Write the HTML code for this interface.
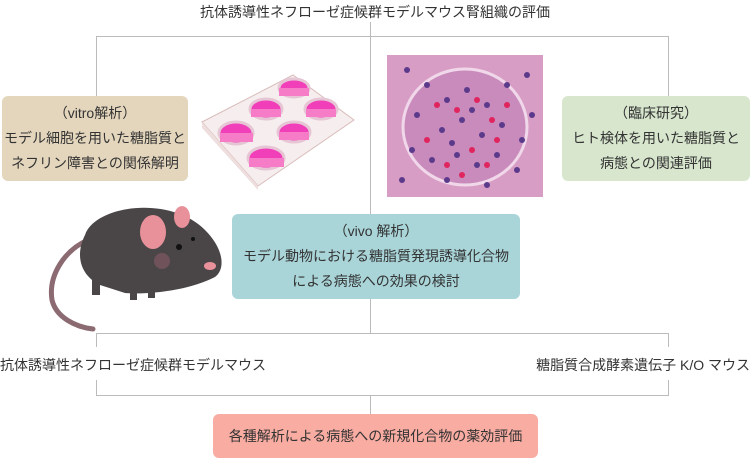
<!DOCTYPE html>
<html><head><meta charset="utf-8"><style>
body{margin:0;width:750px;height:458px;background:#fff;position:relative;overflow:hidden;font-family:"Liberation Sans","Noto Sans CJK JP",sans-serif;color:#333;font-size:14px}
.a{position:absolute}
.l{position:absolute;background:#bbb}
.box{position:absolute;border-radius:6px;text-align:center;line-height:25px;font-size:14px}
.t{position:absolute;white-space:nowrap;font-size:14px}
</style></head><body>
<div class="t" style="left:0;width:750px;text-align:center;top:2px">抗体誘導性ネフローゼ症候群モデルマウス腎組織の評価</div>
<div class="l" style="left:370px;top:22px;width:1px;height:311px"></div>
<div class="l" style="left:96px;top:36px;width:573px;height:1px"></div>
<div class="l" style="left:96px;top:36px;width:1px;height:60px"></div>
<div class="l" style="left:668px;top:36px;width:1px;height:60px"></div>
<div class="box" style="left:2px;top:96px;width:186px;height:85px;background:#e4d6bd;padding-top:5px;box-sizing:border-box">（vitro解析）<br>モデル細胞を用いた糖脂質と<br>ネフリン障害との関係解明</div>
<div class="box" style="left:562px;top:96px;width:188px;height:85px;background:#d7e6cd;padding-top:5px;box-sizing:border-box">（臨床研究）<br>ヒト検体を用いた糖脂質と<br>病態との関連評価</div>
<!-- plate -->
<svg class="a" style="left:198px;top:70px" width="160" height="120" viewBox="0 0 160 120">
<polygon points="4,52 95,5 156,50 60,116" fill="#f6eeee" stroke="#d9bcbc"/>
<polygon points="4,52 60,116 60,120 4,58" fill="#eedede"/>
<g fill="#f03fb8" stroke="#e6c5d5" stroke-width="3">
<ellipse cx="96" cy="18" rx="15" ry="9"/><ellipse cx="123" cy="39" rx="16" ry="10"/>
<ellipse cx="68" cy="39" rx="16" ry="10"/><ellipse cx="96" cy="62" rx="16" ry="10"/>
<ellipse cx="38" cy="63" rx="17" ry="11"/><ellipse cx="68" cy="88" rx="18" ry="11"/>
</g>
<g fill="#f77cc8"><rect x="81" y="18" width="30" height="8"/><rect x="108" y="39" width="30" height="8"/><rect x="53" y="39" width="30" height="8"/><rect x="81" y="62" width="30" height="8"/><rect x="22" y="63" width="33" height="9"/><rect x="51" y="88" width="35" height="9"/></g>
</svg>
<!-- histology -->
<svg class="a" style="left:387px;top:55px" width="156" height="142" viewBox="0 0 156 142">
<rect width="156" height="142" fill="#d89dc4"/>
<ellipse cx="78" cy="72" rx="62" ry="58" fill="#c98bbb" stroke="#f0d8ea" stroke-width="3"/>
<g fill="#5b3a8c">
<circle cx="20" cy="15" r="3"/><circle cx="40" cy="30" r="3"/><circle cx="60" cy="45" r="3"/><circle cx="80" cy="35" r="3"/><circle cx="100" cy="50" r="3"/><circle cx="120" cy="30" r="3"/><circle cx="140" cy="20" r="3"/><circle cx="30" cy="60" r="3"/><circle cx="55" cy="75" r="3"/><circle cx="75" cy="65" r="3"/><circle cx="95" cy="80" r="3"/><circle cx="115" cy="70" r="3"/><circle cx="135" cy="85" r="3"/><circle cx="25" cy="95" r="3"/><circle cx="45" cy="105" r="3"/><circle cx="70" cy="100" r="3"/><circle cx="90" cy="110" r="3"/><circle cx="110" cy="100" r="3"/><circle cx="130" cy="115" r="3"/><circle cx="15" cy="125" r="3"/><circle cx="60" cy="125" r="3"/><circle cx="100" cy="130" r="3"/><circle cx="145" cy="60" r="3"/><circle cx="85" cy="55" r="3"/><circle cx="65" cy="88" r="3"/>
</g>
<g fill="#e0245e">
<circle cx="50" cy="50" r="3"/><circle cx="90" cy="45" r="3"/><circle cx="70" cy="55" r="3"/><circle cx="40" cy="85" r="3"/><circle cx="85" cy="95" r="3"/><circle cx="110" cy="85" r="3"/><circle cx="100" cy="110" r="3"/><circle cx="60" cy="110" r="3"/><circle cx="120" cy="50" r="3"/><circle cx="75" cy="120" r="3"/><circle cx="105" cy="65" r="3"/>
</g>
</svg>
<!-- mouse -->
<svg class="a" style="left:30px;top:195px" width="200" height="195" viewBox="0 0 200 195">
<path d="M58,45 C35,55 18,80 22,105 C26,122 45,132 63,134" fill="none" stroke="#8b6a72" stroke-width="5" stroke-linecap="round"/>
<path d="M55,40 C65,10 140,0 175,35 C195,55 195,75 185,82 C160,95 120,100 95,98 L70,90 C50,80 45,60 55,40Z" fill="#4a4648"/>
<rect x="62" y="78" width="8" height="22" fill="#4a4648"/><rect x="100" y="85" width="7" height="20" fill="#4a4648"/><rect x="118" y="85" width="7" height="18" fill="#4a4648"/>
<ellipse cx="123" cy="37" rx="13" ry="17" fill="#e8919a"/>
<ellipse cx="152" cy="22" rx="8" ry="11" fill="#e8919a"/>
<circle cx="149" cy="52" r="3" fill="#111"/><circle cx="163" cy="44" r="2" fill="#111"/>
<ellipse cx="180" cy="71" rx="6" ry="4" fill="#e8919a"/>
<circle cx="132" cy="66" r="8" fill="#8a5a68" opacity=".6"/>
</svg>
<div class="box" style="left:232px;top:214px;width:288px;height:85px;background:#a9d5d9;padding-top:5px;box-sizing:border-box">（vivo 解析）<br>モデル動物における糖脂質発現誘導化合物<br>による病態への効果の検討</div>
<div class="l" style="left:96px;top:333px;width:573px;height:1px"></div>
<div class="l" style="left:96px;top:333px;width:1px;height:14px"></div>
<div class="l" style="left:668px;top:333px;width:1px;height:14px"></div>
<div class="t" style="left:0px;top:355px">抗体誘導性ネフローゼ症候群モデルマウス</div>
<div class="t" style="right:0px;top:355px">糖脂質合成酵素遺伝子 K/O マウス</div>
<div class="l" style="left:96px;top:380px;width:1px;height:16px"></div>
<div class="l" style="left:668px;top:380px;width:1px;height:16px"></div>
<div class="l" style="left:96px;top:395px;width:573px;height:1px"></div>
<div class="l" style="left:370px;top:395px;width:1px;height:20px"></div>
<div class="box" style="left:213px;top:414px;width:325px;height:44px;background:#f9aca2;line-height:44px">各種解析による病態への新規化合物の薬効評価</div>
</body></html>
